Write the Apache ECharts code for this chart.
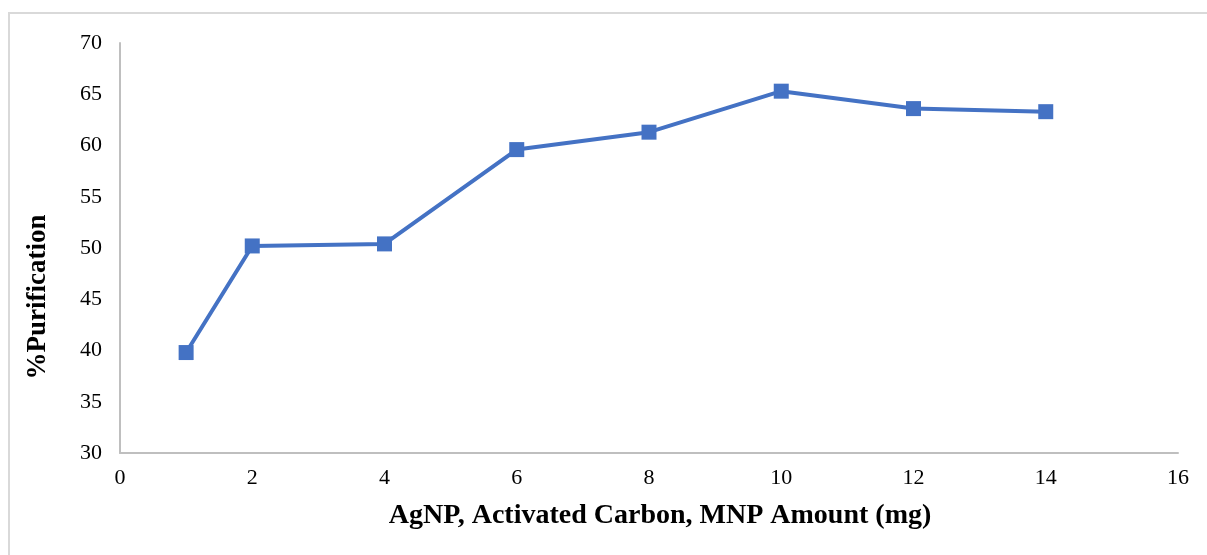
<!DOCTYPE html>
<html>
<head>
<meta charset="utf-8">
<title>Purification</title>
<script src="https://cdn.jsdelivr.net/npm/echarts@6/dist/echarts.min.js"></script>
<style>
    html, body { margin: 0; padding: 0; background: #fff; }
    #chart { width: 1207px; height: 555px; }
</style>
</head>
<body>
<div id="chart"></div>
<script>
// amount (mg) vs % purification
var amounts = [1, 2, 4, 6, 8, 10, 12, 14];
var purification = [39.8, 50.2, 50.4, 59.6, 61.3, 65.3, 63.6, 63.3];
var xTitle = 'AgNP, Activated Carbon, MNP Amount (mg)';
var yTitle = '%Purification';

var points = amounts.map(function (a, i) { return [a, purification[i]]; });

var myChart = echarts.init(document.getElementById('chart'));
var option = {
    animation: false,
    grid: { left: 120, top: 43, right: 29, bottom: 102 },
    graphic: [
        {
            type: 'rect',
            shape: { x: 9, y: 13, width: 1230, height: 600 },
            style: { fill: 'none', stroke: '#d9d9d9', lineWidth: 2 }
        },
        {
            type: 'text',
            x: 38, y: 297,
            rotation: Math.PI / 2,
            style: {
                text: yTitle,
                font: 'bold 27px "Liberation Serif"',
                fill: '#000',
                align: 'center',
                verticalAlign: 'middle'
            }
        }
    ],
    xAxis: {
        type: 'value',
        min: 0, max: 16, interval: 2,
        name: xTitle,
        nameLocation: 'middle',
        nameGap: 49,
        nameTextStyle: { fontFamily: 'Liberation Serif', fontWeight: 'bold', fontSize: 28, color: '#000', padding: [0, 0, 0, 22] },
        axisLine: { lineStyle: { color: '#bfbfbf', width: 2 } },
        axisTick: { show: false },
        splitLine: { show: false },
        axisLabel: { fontFamily: 'Liberation Serif', fontSize: 22, color: '#000', margin: 14 }
    },
    yAxis: {
        type: 'value',
        min: 30, max: 70, interval: 5,
        axisLine: { show: true, lineStyle: { color: '#bfbfbf', width: 2 } },
        axisTick: { show: false },
        splitLine: { show: false },
        axisLabel: { fontFamily: 'Liberation Serif', fontSize: 22, color: '#000', margin: 18 }
    },
    series: [{
        type: 'line',
        data: points,
        symbol: 'rect',
        symbolSize: 15,
        lineStyle: { color: '#4472c4', width: 4 },
        itemStyle: { color: '#4472c4' }
    }]
};
myChart.setOption(option);
</script>
</body>
</html>
